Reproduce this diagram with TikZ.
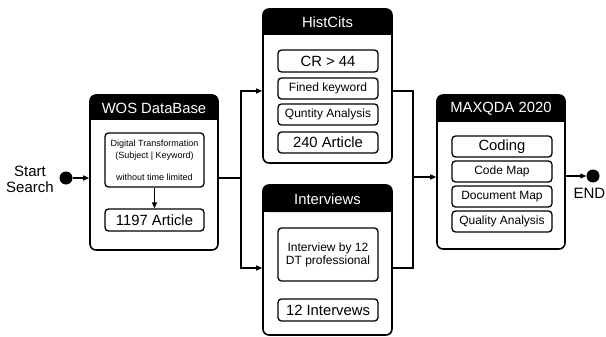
\documentclass[tikz,border=0pt]{standalone}
\usepackage{fontspec}
\setmainfont{Liberation Sans}
\usetikzlibrary{arrows.meta}
\tikzset{
  outerbox/.style={draw, line width=1.6pt, rounded corners=6pt, minimum width=129pt, inner sep=0pt},
  hdrtext/.style={text=white, font=\fontsize{14.8}{16}\selectfont, inner sep=0pt},
  innerbox/.style={draw, line width=1.3pt, rounded corners=3.5pt, minimum width=100pt, inner sep=0pt, align=center},
  big/.style={font=\fontsize{14.8}{16}\selectfont},
  mid/.style={font=\fontsize{12}{13}\selectfont},
  small/.style={font=\fontsize{9}{12}\selectfont},
  conn/.style={line width=1.2pt},
  arr/.style={line width=1.2pt, -{Triangle[length=6pt,width=5pt]}},
  dot/.style={circle, fill=black, minimum size=13pt, inner sep=0pt},
  plain/.style={font=\fontsize{15}{17}\selectfont, inner sep=0pt}
}
\newcommand{\hdr}[5]{% x1 x2 top bottom name
  \fill[rounded corners=6pt] (#1,#3) rectangle (#2,#4);
  \fill (#1,#4-8) rectangle (#2,#4);
}
\begin{document}
\begin{tikzpicture}[x=1pt,y=-1pt]
\useasboundingbox (0,0) rectangle (606,337);
% headers
\hdr{90}{218}{95}{120}{}
\hdr{263}{392}{9}{35}{}
\hdr{263}{392}{185}{212}{}
\hdr{437}{565}{95}{122}{}
% outer boxes
\node[outerbox, minimum width=128pt, minimum height=155pt] (wos) at (154,172.5) {};
\node[outerbox, minimum width=129pt, minimum height=154pt] (hist) at (327.5,86) {};
\node[outerbox, minimum width=129pt, minimum height=150pt] (intv) at (327.5,260) {};
\node[outerbox, minimum width=128pt, minimum height=154pt] (maxq) at (501,172) {};
% header texts
\node[hdrtext] (wosh) at (154,108) {WOS DataBase};
\node[hdrtext] (histh) at (327.5,22.5) {HistCits};
\node[hdrtext] (intvh) at (327.5,199) {Interviews};
\node[hdrtext] (maxqh) at (501,109) {MAXQDA 2020};
% WOS inner
\node[innerbox, small, minimum width=99pt, minimum height=54pt] (dt) at (154.5,160) {Digital Transformation\\(Subject | Keyword)\\[10pt]without time limited};
\node[innerbox, big, minimum width=99pt, minimum height=22pt] (a1197) at (154.5,220) {1197 Article};
% HistCits inner
\node[innerbox, big, minimum height=22pt] (cr) at (328,61) {CR > 44};
\node[innerbox, mid, minimum height=21pt] (fk) at (328,88.5) {Fined keyword};
\node[innerbox, mid, minimum height=21pt] (qa) at (328,114.5) {Quntity Analysis};
\node[innerbox, big, minimum height=21pt] (a240) at (328,142.5) {240 Article};
% Interviews inner
\node[innerbox, mid, minimum height=53pt] (ib) at (328,254.5) {Interview by 12\\DT professional};
\node[innerbox, big, minimum height=22pt] (i12) at (328,310) {12 Intervews};
% MAXQDA inner
\node[innerbox, big, minimum height=21pt] (cod) at (502,146.5) {Coding};
\node[innerbox, mid, minimum height=21pt] (cm) at (502,171.5) {Code Map};
\node[innerbox, mid, minimum height=21pt] (dm) at (502,196.5) {Document Map};
\node[innerbox, mid, minimum height=21pt] (qual) at (502,221.5) {Quality Analysis};
% start / end
\node[dot] (start) at (66,178) {};
\node[plain, align=center, font=\fontsize{15}{16}\selectfont] (stxt) at (30,179) {Start\\Search};
\node[dot] (end) at (593,176) {};
\node[plain, anchor=east] (etxt) at (605.5,193) {END};
% connectors
\coordinate (sp) at (241,178);
\coordinate (mp) at (413,177);
\draw[arr] (start) -- (start -| wos.west);
\draw[arr] (dt) -- (a1197);
\draw[conn] (wos.east |- sp) -- (sp);
\draw[arr] (sp) |- (hist.west |- 0,91);
\draw[arr] (sp) |- (intv.west |- 0,268);
\draw[conn] (hist.east |- 0,91) -| (mp);
\draw[conn] (intv.east |- 0,268) -| (mp);
\draw[arr] (mp) -- (maxq.west |- mp);
\draw[arr] (maxq.east |- end) -- (end);
\end{tikzpicture}
\end{document}
